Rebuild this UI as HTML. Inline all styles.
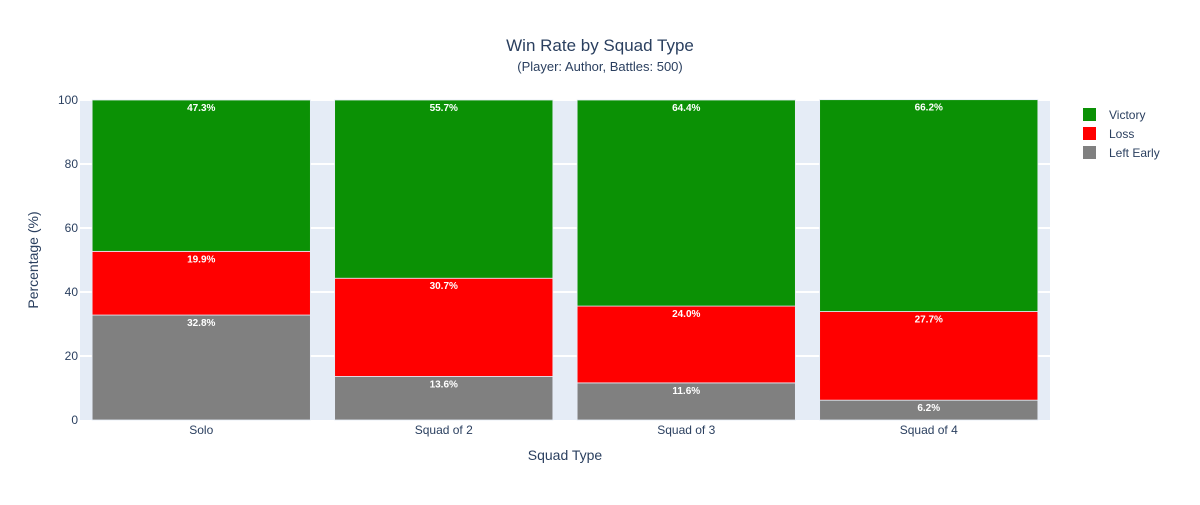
<!DOCTYPE html>
<html><head><meta charset="utf-8"><style>
body{margin:0;background:#fff;font-family:"Liberation Sans",Arial,sans-serif}
svg text{font-family:"Liberation Sans",Arial,sans-serif}
</style></head><body>
<svg width="1200" height="500" id="chart">
<rect x="80" y="100" width="970" height="320" fill="#e5ecf6"/>
<g id="grid"></g><g id="bars"></g><g id="labels"></g><g id="axes"></g>
<text x="600" y="51" text-anchor="middle" font-size="17" fill="#2a3f5f">Win Rate by Squad Type</text>
<text x="600" y="71" text-anchor="middle" font-size="13" fill="#2a3f5f">(Player: Author, Battles: 500)</text>
<text x="565" y="460" text-anchor="middle" font-size="14" fill="#2a3f5f">Squad Type</text>
<text transform="translate(38,260) rotate(-90)" text-anchor="middle" font-size="14" fill="#2a3f5f">Percentage (%)</text>
<g id="legend"></g>
</svg>
<script>
const categories=["Solo","Squad of 2","Squad of 3","Squad of 4"];
const leftEarly=[32.8,13.6,11.6,6.2];
const loss=[19.9,30.7,24.0,27.7];
const victory=[47.3,55.7,64.4,66.2];
const yTicks=[0,20,40,60,80,100];
const seriesNames=["Victory","Loss","Left Early"];
const NS="http://www.w3.org/2000/svg";
const X0=80,W=970,Y0=420,H=320;
const band=W/categories.length, bw=band*0.9;
const y=v=>Y0-v/100*H;
const xc=i=>X0+band*(i+0.5);
function mk(t,a,p){const e=document.createElementNS(NS,t);for(const k in a)e.setAttribute(k,a[k]);p.appendChild(e);return e;}
const grid=document.getElementById('grid'),axes=document.getElementById('axes');
yTicks.forEach(t=>{
 if(t>0){const l=mk('line',{x1:X0,x2:X0+W,y1:y(t),y2:y(t),stroke:'#fff','stroke-width':2},grid);
 
 }
 const tx=mk('text',{x:X0-2,y:y(t)+4,'text-anchor':'end','font-size':12,fill:'#2a3f5f'},axes);tx.textContent=t;
 
 
});
categories.forEach((c,i)=>{
 const tx=mk('text',{x:xc(i),y:Y0+14,'text-anchor':'middle','font-size':12,fill:'#2a3f5f'},axes);tx.textContent=c;
 
 
});
const series=[{name:'left-early',vals:leftEarly,col:'#808080'},{name:'loss',vals:loss,col:'#ff0000'},{name:'victory',vals:victory,col:'#0b9105'}];
const bars=document.getElementById('bars'),labels=document.getElementById('labels');
categories.forEach((c,i)=>{
 let base=0;
 series.forEach(s=>{
  const v=s.vals[i];
  const r=mk('rect',{x:xc(i)-bw/2,y:y(base+v),width:bw,height:y(base)-y(base+v),fill:s.col,stroke:'#e5ecf6','stroke-width':0.8},bars);
  
  
  const t=mk('text',{x:xc(i),y:y(base+v)+11,'text-anchor':'middle','font-size':10,'font-weight':'bold',fill:'#fff'},labels);
  t.textContent=v.toFixed(1)+'%';
  
  
  base+=v;
 });
});
const lg=document.getElementById('legend');
const lcols=['#0b9105','#ff0000','#808080'];
seriesNames.forEach((n,k)=>{
 const g=mk('g',{},lg);
 
 
 mk('rect',{x:1083,y:108+k*19,width:13,height:13,fill:lcols[k]},g);
 const t=mk('text',{x:1109,y:119+k*19,'font-size':12,fill:'#2a3f5f'},g);t.textContent=n;
});
</script>
</body></html>
